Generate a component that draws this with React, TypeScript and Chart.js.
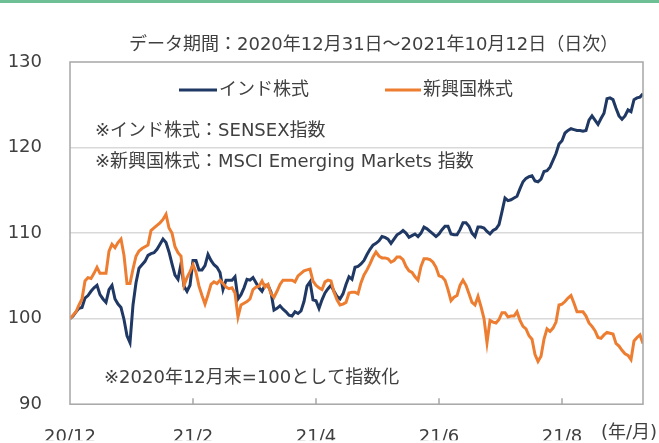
import React, { useEffect, useRef } from "react";
import { Chart, registerables } from "chart.js";

Chart.register(...registerables);

const seriesNames = ["インド株式", "新興国株式"];
const xTickLabels = ["20/12", "21/2", "21/4", "21/6", "21/8"];
const xTickIndex = [0, 41, 82, 123, 164];
const yTicks = [90, 100, 110, 120, 130];
const titleText = "データ期間：2020年12月31日～2021年10月12日（日次）";
const notes = ["※インド株式：SENSEX指数", "※新興国株式：MSCI Emerging Markets 指数", "※2020年12月末=100として指数化"];
const unitLabel = "(年/月)";

const india = [
  100.0, 100.3, 100.8, 101.2, 101.3, 102.4, 102.7, 103.2, 103.6, 103.9,
  102.8, 102.3, 101.9, 103.4, 103.9, 102.3, 101.7, 101.3, 99.9, 98.0,
  97.2, 101.6, 104.2, 105.9, 106.3, 106.7, 107.4, 107.6, 107.7, 108.1,
  108.7, 109.3, 108.9, 107.8, 106.4, 105.1, 104.6, 106.4, 103.8, 103.2,
  103.9, 106.8, 106.8, 105.7, 105.7, 106.2, 107.5, 106.8, 106.3, 106.0,
  105.4, 103.4, 104.5, 104.5, 104.5, 104.9, 102.3, 102.8, 103.6, 104.6,
  104.5, 104.8, 104.2, 103.6, 103.2, 103.9, 103.9, 103.1, 101.0, 101.2,
  101.5, 101.1, 100.8, 100.4, 100.3, 100.8, 100.6, 100.9, 102.0, 103.8,
  104.3, 102.2, 102.1, 101.2, 102.2, 103.0, 103.5, 103.9, 103.2, 102.6,
  102.3, 102.9, 104.0, 104.9, 104.6, 106.0, 106.1, 106.4, 106.8, 107.5,
  108.1, 108.6, 108.8, 109.1, 109.6, 109.5, 109.3, 108.8, 109.3, 109.8,
  110.0, 110.3, 110.0, 109.5, 109.7, 109.9, 109.6, 110.0, 110.7, 110.5,
  110.2, 109.9, 109.6, 109.9, 110.4, 110.8, 110.8, 109.9, 109.8, 109.8,
  110.4, 111.2, 111.2, 110.8, 110.0, 109.6, 110.7, 110.7, 110.6, 110.2,
  109.9, 110.3, 110.5, 111.0, 112.5, 114.1, 113.8, 113.9, 114.1, 114.3,
  115.2, 116.0, 116.4, 116.6, 116.7, 116.1, 116.0, 116.3, 117.2, 117.3,
  117.7, 118.5, 119.3, 120.4, 120.8, 121.7, 122.0, 122.2, 122.1, 122.0,
  122.0, 121.9, 122.0, 123.2, 123.7, 123.2, 122.7, 123.4, 124.0, 125.7,
  125.8, 125.6, 124.6, 123.7, 123.3, 123.7, 124.4, 124.2, 125.6, 125.8,
  125.9, 126.3,
];

const emerging = [
  100.0, 100.4, 100.8, 101.6, 102.3, 104.4, 104.8, 104.7, 105.3, 106.0,
  105.3, 105.3, 105.3, 107.9, 108.7, 108.3, 108.9, 109.3, 107.4, 104.1,
  104.1, 105.8, 107.3, 107.9, 108.2, 108.4, 108.6, 110.3, 110.6, 110.9,
  111.2, 111.6, 112.2, 110.6, 110.0, 108.4, 107.7, 107.3, 103.9, 104.8,
  105.5, 106.3, 105.4, 103.8, 102.7, 101.7, 102.8, 104.0, 104.3, 104.1,
  104.5, 104.1, 103.7, 103.5, 103.6, 103.0, 100.2, 101.6, 101.8, 102.0,
  102.3, 103.4, 103.7, 103.8, 104.4, 103.7, 104.0, 102.9, 102.5, 103.2,
  104.0, 104.5, 104.5, 104.5, 104.5, 104.3, 105.0, 105.3, 105.6, 105.7,
  105.8, 104.4, 103.9, 103.6, 103.4, 104.3, 104.5, 104.4, 103.1, 102.2,
  101.6, 101.7, 101.9, 103.0, 103.1, 103.1, 102.9, 104.2, 105.1, 105.7,
  106.4, 107.2, 107.8, 107.3, 107.1, 107.1, 107.0, 106.6, 106.8, 107.2,
  107.2, 106.9, 106.1, 105.6, 105.4, 104.9, 104.5, 106.1, 107.0, 107.0,
  106.9, 106.6, 106.0, 105.0, 104.9, 104.5, 103.4, 102.1, 102.5, 102.7,
  103.9, 104.5, 103.9, 102.9, 101.9, 101.6, 102.6, 101.4, 100.0, 97.2,
  99.8, 99.6, 99.5, 99.9, 100.7, 100.7, 100.2, 100.3, 100.3, 100.8,
  99.8, 99.1, 98.8, 98.0, 97.6, 95.8, 95.0, 95.6, 97.6, 98.8,
  98.5, 98.9, 99.6, 101.6, 101.7, 102.0, 102.4, 102.7, 101.8, 100.8,
  100.8, 100.8, 100.3, 99.5, 99.1, 98.6, 97.8, 97.7, 98.1, 98.4,
  98.3, 98.2, 97.1, 96.8, 96.3, 95.9, 95.7, 95.2, 97.4, 97.8,
  98.1, 97.1,
];

const NAVY = "#1f3864";
const ORANGE = "#ed7d31";
const TEXT = "#404040";
const AXIS = "#a6a6a6";
const FONT = '"DejaVu Sans", "Noto Sans CJK JP", sans-serif';

const decorPlugin = {
  id: "decor",
  beforeDraw(chart: any) {
    const ctx = chart.ctx;
    ctx.save();
    ctx.fillStyle = "#ffffff";
    ctx.fillRect(0, 0, chart.width, chart.height);
    ctx.fillStyle = "#6fbf94";
    ctx.fillRect(0, 0, chart.width, 3);
    ctx.restore();
  },
  afterDraw(chart: any) {
    const ctx = chart.ctx;
    const a = chart.chartArea;
    const xs = chart.scales.x;
    ctx.save();
    ctx.strokeStyle = AXIS;
    ctx.lineWidth = 1.5;
    ctx.strokeRect(a.left, a.top, a.right - a.left, a.bottom - a.top);
    xTickIndex.forEach((v, i) => {
      if (i === 0) return;
      const px = xs.getPixelForValue(v);
      ctx.beginPath();
      ctx.moveTo(px, a.bottom);
      ctx.lineTo(px, a.bottom - 6);
      ctx.stroke();
    });
    ctx.fillStyle = TEXT;
    ctx.textBaseline = "middle";
    ctx.font = `18px ${FONT}`;
    ctx.textAlign = "left";
    ctx.fillText(titleText, 129, 45);
    // legend
    ctx.lineWidth = 3;
    ctx.strokeStyle = NAVY;
    ctx.beginPath();
    ctx.moveTo(179, 90);
    ctx.lineTo(217, 90);
    ctx.stroke();
    ctx.strokeStyle = ORANGE;
    ctx.beginPath();
    ctx.moveTo(385, 90);
    ctx.lineTo(421, 90);
    ctx.stroke();
    ctx.fillText(seriesNames[0], 219, 90);
    ctx.fillText(seriesNames[1], 423, 90);
    // notes
    ctx.fillText(notes[0], 95, 131);
    ctx.fillText(notes[1], 95, 162);
    ctx.fillText(notes[2], 104, 378);
    ctx.textAlign = "right";
    ctx.fillText(unitLabel, 657, 433);
    ctx.restore();
  },
};

export default function App() {
  const ref = useRef<HTMLCanvasElement | null>(null);
  useEffect(() => {
    if (!ref.current) return;
    const idx = india.map((_, i) => i);
    const chart = new Chart(ref.current, {
      type: "line",
      data: {
        datasets: [
          {
            label: seriesNames[0],
            data: idx.map((i) => ({ x: i, y: india[i] })),
            borderColor: NAVY,
            borderWidth: 3,
            pointRadius: 0,
            tension: 0,
            order: 1,
          },
          {
            label: seriesNames[1],
            data: idx.map((i) => ({ x: i, y: emerging[i] })),
            borderColor: ORANGE,
            borderWidth: 3,
            pointRadius: 0,
            tension: 0,
            order: 0,
          },
        ],
      },
      options: {
        responsive: false,
        animation: false,
        devicePixelRatio: 1,
        layout: { padding: { left: 0, right: 16, top: 62, bottom: 0 } },
        plugins: { legend: { display: false }, tooltip: { enabled: false }, title: { display: false } },
        scales: {
          x: {
            type: "linear",
            min: 0,
            max: india.length - 1,
            grid: { display: false, drawTicks: false },
            border: { display: false },
            afterBuildTicks: (s: any) => {
              s.ticks = xTickIndex.map((v) => ({ value: v }));
            },
            afterFit: (s: any) => {
              s.height = 36;
            },
            ticks: {
              autoSkip: false,
              maxRotation: 0,
              padding: 22,
              color: TEXT,
              font: { family: FONT, size: 18 },
              callback: (v: any) => {
                const k = xTickIndex.indexOf(Number(v));
                return k >= 0 ? xTickLabels[k] : "";
              },
            },
          },
          y: {
            min: 90,
            max: 130,
            afterBuildTicks: (s: any) => {
              s.ticks = yTicks.map((v) => ({ value: v }));
            },
            afterFit: (s: any) => {
              s.width = 70;
            },
            grid: {
              drawTicks: false,
              lineWidth: 1.5,
              color: (c: any) => (c.tick && c.tick.value > 90 && c.tick.value < 130 ? "#d9d9d9" : "rgba(0,0,0,0)"),
            },
            border: { display: false },
            ticks: {
              padding: 28,
              color: TEXT,
              font: { family: FONT, size: 18 },
              callback: (v: any) => String(v),
            },
          },
        },
      },
      plugins: [decorPlugin],
    });
    return () => chart.destroy();
  }, []);
  return (
    <div style={{ position: "fixed", left: 0, top: 0, width: 659, height: 443, background: "#fff" }}>
      <canvas ref={ref} width={659} height={443} style={{ display: "block", width: 659, height: 443 }} />
    </div>
  );
}
